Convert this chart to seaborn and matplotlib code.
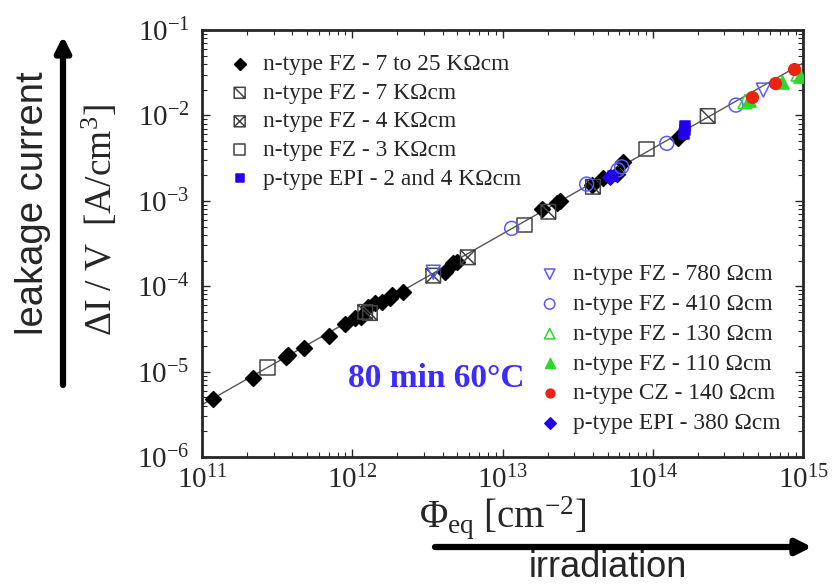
import numpy as np
import pandas as pd
import seaborn as sns
import matplotlib.pyplot as plt
from matplotlib.path import Path

sns.set_style("ticks")
plt.rcParams['font.family'] = ['Liberation Serif', 'DejaVu Serif']
plt.rcParams['mathtext.fontset'] = 'custom'
plt.rcParams['mathtext.rm'] = 'Liberation Serif'
plt.rcParams['mathtext.it'] = 'Liberation Serif:italic'
plt.rcParams['mathtext.bf'] = 'Liberation Serif:bold'

# fluence [cm^-2] and current per volume [A/cm^3]
fz_7to25_phi = [1.19e11, 2.19e11, 3.61e11, 3.72e11, 4.77e11, 7.0e11, 8.95e11, 1.04e12, 1.14e12,
                1.28e12, 1.42e12, 1.57e12, 1.78e12, 1.83e12, 2.19e12, 4.14e12, 4.71e12, 4.95e12,
                1.82e13, 2.30e13, 2.42e13, 3.92e13, 4.69e13, 5.75e13, 6.37e13, 1.48e14]
fz_7to25_iv = [4.8e-6, 8.5e-6, 1.49e-5, 1.56e-5, 1.87e-5, 2.61e-5, 3.61e-5, 4.21e-5, 4.39e-5,
               5.75e-5, 6.3e-5, 6.6e-5, 7.2e-5, 7.9e-5, 8.5e-5, 1.48e-4, 1.85e-4, 1.94e-4,
               8.0e-4, 9.35e-4, 1.0e-3, 1.53e-3, 1.83e-3, 2.05e-3, 2.87e-3, 5.4e-3]
fz_7k_phi = [1.22e12, 1.31e12, 2.02e13, 4.0e13, 2.32e14]
fz_7k_iv = [5.0e-5, 4.85e-5, 7.45e-4, 1.46e-3, 9.84e-3]
fz_4k_phi = [3.46e12, 5.87e12]
fz_4k_iv = [1.33e-4, 2.18e-4]
fz_3k_phi = [2.74e11, 1.40e13, 9.12e13]
fz_3k_iv = [1.11e-5, 5.2e-4, 4.04e-3]
epi_2_4k_phi = [5.46e13, 1.62e14, 1.63e14, 1.64e14]
epi_2_4k_iv = [1.95e-3, 6.0e-3, 6.8e-3, 7.6e-3]
fz_780_phi = [3.46e12, 5.44e14]
fz_780_iv = [1.46e-4, 1.98e-2]
fz_410_phi = [1.15e13, 3.63e13, 5.87e13, 6.21e13, 1.24e14, 3.58e14]
fz_410_iv = [4.76e-4, 1.57e-3, 2.3e-3, 2.5e-3, 4.71e-3, 1.32e-2]
fz_130_phi = [4.11e14, 9.27e14]
fz_130_iv = [1.45e-2, 3.05e-2]
fz_110_phi = [4.37e14, 7.21e14, 9.55e14]
fz_110_iv = [1.51e-2, 2.48e-2, 2.89e-2]
cz_140_phi = [4.56e14, 6.51e14, 8.71e14]
cz_140_iv = [1.66e-2, 2.38e-2, 3.49e-2]
epi_380_phi = [5.2e13]
epi_380_iv = [1.9e-3]

# fitted line (alpha ~ 4e-17 A/cm)
fit_phi = [1e11, 1e15]
fit_iv = [4.1e-6, 4.1e-2]

# custom square markers
sq_diag = Path([(-1, -1), (1, -1), (1, 1), (-1, 1), (-1, -1), (-1, 1), (1, -1)],
               [Path.MOVETO, Path.LINETO, Path.LINETO, Path.LINETO, Path.CLOSEPOLY,
                Path.MOVETO, Path.LINETO])
sq_cross = Path([(-1, -1), (1, -1), (1, 1), (-1, 1), (-1, -1), (-1, 1), (1, -1), (-1, -1), (1, 1)],
                [Path.MOVETO, Path.LINETO, Path.LINETO, Path.LINETO, Path.CLOSEPOLY,
                 Path.MOVETO, Path.LINETO, Path.MOVETO, Path.LINETO])

blue_open = '#5a5aff'
blue_fill = '#2200ee'
green = '#2bd92b'
red = '#ee2211'

fig = plt.figure(figsize=(8.33, 5.86), dpi=100)
ax = fig.add_axes([0.2425, 0.2201, 0.7215, 0.7287])

sns.lineplot(x=fit_phi, y=fit_iv, color='#555555', lw=1, ax=ax, zorder=1)

series = [
    (fz_7to25_phi, fz_7to25_iv, 'D', 'black', 'black', 65, 'n-type FZ - 7 to 25 K\u03a9cm'),
    (fz_7k_phi, fz_7k_iv, sq_diag, 'none', '#444444', 110, 'n-type FZ - 7 K\u03a9cm'),
    (fz_4k_phi, fz_4k_iv, sq_cross, 'none', '#444444', 110, 'n-type FZ - 4 K\u03a9cm'),
    (fz_3k_phi, fz_3k_iv, 's', 'none', '#444444', 110, 'n-type FZ - 3 K\u03a9cm'),
    (epi_2_4k_phi, epi_2_4k_iv, 's', blue_fill, blue_fill, 60, 'p-type EPI - 2 and 4 K\u03a9cm'),
    (fz_780_phi, fz_780_iv, 'v', 'none', blue_open, 100, 'n-type FZ - 780 \u03a9cm'),
    (fz_410_phi, fz_410_iv, 'o', 'none', blue_open, 100, 'n-type FZ - 410 \u03a9cm'),
    (fz_130_phi, fz_130_iv, '^', 'none', green, 100, 'n-type FZ - 130 \u03a9cm'),
    (fz_110_phi, fz_110_iv, '^', green, green, 90, 'n-type FZ - 110 \u03a9cm'),
    (cz_140_phi, cz_140_iv, 'o', red, red, 70, 'n-type CZ - 140 \u03a9cm'),
    (epi_380_phi, epi_380_iv, 'D', blue_fill, blue_fill, 60, 'p-type EPI - 380 \u03a9cm'),
]
for phi, iv, mk, fc, ec, size, lab in series:
    sns.scatterplot(x=phi, y=iv, marker=mk, color=ec, facecolors=fc, edgecolor=ec,
                    s=size, linewidth=1.1, label=lab, legend=False, ax=ax, zorder=3)

ax.set(xscale='log', yscale='log', xlim=(1e11, 1e15), ylim=(1e-6, 1e-1))
ax.tick_params(which='both', direction='in', top=True, right=True)
ax.tick_params(which='major', length=6, width=1, labelsize=21)
ax.tick_params(which='minor', length=3.5, width=0.8)
ax.tick_params(axis='y', which='major', pad=9)
ax.tick_params(axis='x', which='major', pad=6)
for sp in ax.spines.values():
    sp.set_linewidth(2)

handles, labels = ax.get_legend_handles_labels()
leg_kw = dict(bbox_transform=fig.transFigure, loc='upper left', frameon=False, fontsize=16.8,
              markerscale=0.75, handlelength=1.0, handletextpad=0.48, borderpad=0, borderaxespad=0)
leg1 = ax.legend(handles[:5], labels[:5], bbox_to_anchor=(228 / 833, 1 - 54 / 586),
                 labelspacing=0.31, **leg_kw)
ax.add_artist(leg1)
ax.legend(handles[5:], labels[5:], bbox_to_anchor=(538 / 833, 1 - 264 / 586),
          labelspacing=0.36, **leg_kw)

ax.text(0.39, 0.184, '80 min 60\u00b0C', transform=ax.transAxes, ha='center', va='center',
        fontsize=24, fontweight='bold', color='#3b2bff')

fig.text(100 / 833, 1 - 220 / 586, r'$\mathregular{\Delta I\ /\ V\ \ [A/cm^{3}]}$',
         rotation=90, ha='center', va='center', fontsize=27)
fig.text(503 / 833, 1 - 518 / 586, r'$\mathregular{\Phi_{eq}\ [cm^{-2}]}$',
         ha='center', va='center', fontsize=28)

# annotation arrows
fig.text(33 / 833, 1 - 203 / 586, 'leakage current', rotation=90, ha='center', va='center',
         fontsize=27.5, family=['Liberation Sans', 'DejaVu Sans'])
fig.text(608 / 833, 1 / 586, 'irradiation', ha='center', va='bottom',
         fontsize=26, family=['Liberation Sans', 'DejaVu Sans'])
arrow_kw = dict(arrowstyle='-|>,head_length=0.9,head_width=0.45', lw=4.5, color='black',
                shrinkA=0, shrinkB=0)
ax.annotate('', xy=(63 / 833, 1 - 36 / 586), xytext=(63 / 833, 1 - 385 / 586),
            xycoords='figure fraction', textcoords='figure fraction', arrowprops=arrow_kw,
            annotation_clip=False)
ax.annotate('', xy=(812 / 833, 1 - 547 / 586), xytext=(435 / 833, 1 - 547 / 586),
            xycoords='figure fraction', textcoords='figure fraction', arrowprops=arrow_kw,
            annotation_clip=False)

plt.savefig('out.png', dpi=100)
